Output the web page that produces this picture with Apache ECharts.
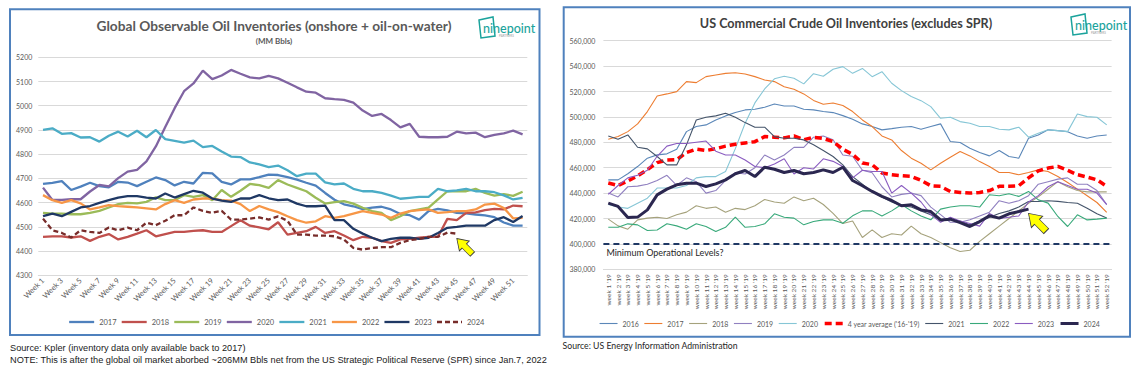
<!DOCTYPE html>
<html><head><meta charset="utf-8">
<script src="https://cdn.jsdelivr.net/npm/echarts/dist/echarts.min.js"></script>
<style>
html,body{margin:0;padding:0;background:#fff;width:1142px;height:368px;overflow:hidden}
#l{position:absolute;left:0;top:0;width:560px;height:368px}
#r{position:absolute;left:560px;top:0;width:582px;height:368px}
</style>
</head><body><div id="l"></div><div id="r"></div>
<script>
// ---------- LEFT CHART DATA (MM Bbls) ----------
const weeksL = [];
for (let i = 1; i <= 52; i++) weeksL.push('Week ' + i);
const yTicksL = { min: 4300, max: 5200, interval: 100 };
const g2017 = [4677,4682,4689,4652,4666,4682,4668,4663,4686,4683,4668,4686,4704,4693,4671,4686,4679,4723,4721,4686,4675,4696,4696,4705,4716,4714,4705,4695,4682,4670,4640,4612,4593,4585,4573,4579,4583,4572,4553,4548,4530,4565,4574,4568,4558,4556,4551,4547,4540,4518,4505,4505];
const g2018 = [4459,4461,4461,4456,4461,4442,4459,4470,4448,4459,4472,4486,4461,4470,4479,4479,4483,4486,4479,4479,4503,4527,4505,4498,4490,4519,4468,4475,4482,4500,4475,4482,4464,4445,4459,4455,4441,4434,4448,4450,4455,4459,4459,4533,4528,4558,4560,4569,4574,4572,4588,4585];
const g2019 = [4558,4555,4555,4552,4552,4558,4566,4580,4594,4599,4597,4603,4622,4610,4610,4631,4624,4631,4610,4652,4624,4649,4677,4672,4661,4693,4675,4661,4647,4620,4596,4602,4606,4596,4579,4565,4558,4528,4544,4565,4572,4579,4613,4647,4647,4647,4657,4640,4629,4635,4628,4645];
const g2020 = [4662,4611,4611,4614,4614,4646,4673,4667,4701,4728,4735,4770,4832,4912,4990,5060,5092,5145,5110,5125,5148,5132,5117,5113,5123,5113,5095,5076,5058,5054,5031,5027,5024,5013,4980,4958,4966,4941,4911,4925,4872,4870,4870,4872,4893,4886,4889,4870,4880,4886,4897,4882];
const g2021 = [4900,4907,4884,4887,4869,4870,4852,4876,4893,4873,4897,4870,4900,4862,4855,4848,4856,4829,4834,4811,4790,4788,4766,4758,4747,4753,4734,4709,4720,4720,4684,4675,4679,4657,4647,4647,4640,4629,4616,4620,4624,4624,4657,4647,4651,4657,4647,4647,4643,4630,4613,4620];
const g2022 = [4631,4610,4599,4610,4597,4572,4580,4590,4586,4583,4580,4576,4572,4594,4610,4599,4613,4617,4617,4610,4608,4594,4565,4586,4572,4561,4544,4528,4517,4523,4544,4537,4544,4555,4565,4558,4551,4537,4555,4565,4569,4572,4558,4561,4565,4565,4572,4592,4596,4578,4535,4537];
const g2023 = [4544,4555,4544,4562,4580,4586,4599,4610,4621,4627,4627,4621,4617,4638,4621,4635,4649,4641,4617,4608,4603,4617,4617,4631,4618,4610,4613,4596,4585,4585,4588,4528,4528,4492,4472,4455,4441,4450,4455,4455,4450,4455,4475,4496,4500,4505,4505,4505,4528,4540,4520,4545];
const g2024 = [4534,4486,4475,4456,4486,4479,4475,4497,4486,4497,4486,4517,4507,4525,4548,4548,4580,4566,4558,4566,4530,4530,4534,4539,4530,4543,4525,4468,4468,4464,4464,4461,4448,4413,4406,4413,4416,4416,4434,4445,4450,4459,4459,4476,4472];
const leftNames = ['2017','2018','2019','2020','2021','2022','2023','2024'];

// ---------- RIGHT CHART DATA (thousand barrels) ----------
const weeksR = [];
for (let i = 1; i <= 52; i++) weeksR.push('week ' + i + " '19");
const yTicksR = { min: 380, max: 560, interval: 20 };
const minOperational = 400;
const u2016 = [450.4,450.4,455.2,460.9,467.5,470.1,470.9,474.6,488.4,492.4,493.7,497.6,500.8,503.4,505.5,506.0,507.6,510.2,508.6,508.6,506.0,505.5,504.2,503.4,501.0,498.1,494.5,492.4,489.8,490.8,491.9,492.4,490.3,492.4,494.5,480.6,479.8,475.3,471.9,469.3,473.5,468.8,467.5,483.2,485.8,489.8,489.2,488.4,485.0,483.2,485.0,485.8];
const u2017 = [482.4,484.5,488.4,494.5,504.2,516.5,518.1,519.9,527.8,527.0,531.7,533.0,534.3,534.8,533.8,531.7,529.1,527.8,523.8,521.7,518.1,513.0,510.0,511.0,509.0,504.2,497.6,492.4,485.0,481.9,473.5,467.5,463.5,458.3,463.5,468.3,472.7,469.3,464.8,460.9,456.2,456.2,454.4,456.2,458.3,457.0,453.0,448.3,443.1,437.9,432.6,424.8];
const u2018 = [419.5,414.2,411.6,418.9,420.3,421.0,420.0,423.0,425.0,430.0,428.0,429.0,425.0,428.0,427.0,430.0,435.0,433.0,432.0,437.0,434.0,436.0,431.0,424.0,416.0,418.0,405.0,411.0,405.0,408.0,407.0,414.0,408.0,405.0,401.0,397.0,394.0,395.0,402.0,408.0,414.0,420.0,426.0,432.0,437.0,443.0,449.0,445.0,442.0,441.0,441.0,441.0];
const u2019 = [440,437,445,445.5,447,450,454,446,452,449,440,442,450,456,455,460,470,466,470,476,476,484,485,482,470,469,458,456,445,437,439,440,438,429,423,417,417,419,422,425,434,432,434,438,447,449,451,452,447,447,442,431];
const u2020 = [431,429,428,432,436,444,444,444,446,452,453,453,457,475,495,511,522,530,532,530.5,526,534,532,537.5,539.6,534.3,538.2,531.7,535.6,526.5,520.7,516.0,512.8,508.1,498.9,499.7,496.3,495.0,492.4,492.4,490.3,489.8,491.9,484.0,487.1,489.8,489.2,488.4,502.3,500.2,499.7,493.7];
const uAvg = [448,446,449.5,453.5,458.5,464,466,466.3,472,474.6,473.5,475,477,478.5,479.5,480.5,484.5,484,483.5,485,482,484,483,480.5,474.5,470.5,463.7,462.4,455.8,454.5,453.7,453.2,450,445.8,445.3,441.3,440.5,440,440.5,442,445.3,445.3,445.8,452,457.5,459.7,461,457.9,454.5,452.6,450.5,445.3];
const u2021 = [485.0,482.4,485.8,476.1,474.8,468.8,462.2,462.2,478.0,497.6,499.7,500.8,502.9,499.7,495.5,491.9,491.9,484.5,483.2,483.2,481.9,478.0,473.5,468.8,462.2,453,447,441,437,433,430,429,426,423,419,419,418,415,418,421,424,426,429,433.4,433.5,434,433.5,432.6,432,428.1,423.7,420.3];
const u2022 = [413.1,413.1,415.8,415.0,410.5,411.0,415.8,414.2,411.6,415.8,413.7,409.7,413.1,421.0,413.1,413.7,415.8,423.7,421.0,420.3,415.0,417.6,418.9,418.9,416.3,422.1,426,426,422,426,431,426,422,419,427.4,429,430,430,429,438.7,437.9,439.5,437.4,441.3,434.7,432.1,421.6,413.7,422.9,418.9,419.5,420.3];
const u2023 = [439,446,452,454,458,469,477,479,479,480,481,473,470,470,466,461,460,463,467,455,460,459,467,465,461,452,458,457,457,440,446,440,433,423,417,421,418,416,414,424,420,421,422,433,438,445,449,446,443,443,440,431];
const u2024 = [432.1,429.5,420.8,421.1,426.8,438.6,443.1,446.5,447.8,447.8,445.2,447.3,450.4,455.2,457.8,453.0,460.4,458.8,456.2,457.8,455.2,456.2,458.3,456.2,460.4,449.9,445.8,441.3,437.4,434.2,430.0,430.8,426.8,425.5,418.9,419.5,416.8,413.7,417.6,422.1,420.3,423.7,425.5,427.4];
const rightNames = ['2016','2017','2018','2019','2020',"4 year average ('16-'19)",'2021','2022','2023','2024'];

// ---------- STYLES ----------
const FONT = 'Lato, "Open Sans", sans-serif';
const AXIS_TXT = '#595959';
const GRID_LINE = '#d9d9d9';
const BORDER = '#4f81bd';
const TEAL = '#1ba39c';
const ARROW = 'path://M50,0 L100,48 L72,48 L72,100 L28,100 L28,48 L0,48 Z';

function logo(x, y) {
  return {
    type: 'group', x: x, y: y, silent: true,
    children: [
      { type: 'polygon', shape: { points: [[0, 3], [14, 0], [16, 19], [2, 21]] },
        style: { fill: 'none', stroke: TEAL, lineWidth: 1.5 } },
      { type: 'text', x: 4, y: 11,
        style: { text: 'ninepoint', fill: TEAL, fontSize: 12.5, fontFamily: FONT, fontWeight: 500, align: 'left', verticalAlign: 'middle' } },
      { type: 'text', x: 20, y: 19,
        style: { text: 'PARTNERS', fill: '#9a9a9a', fontSize: 3, fontFamily: FONT, align: 'left', verticalAlign: 'middle' } }
    ]
  };
}

// ---------- LEFT CHART ----------
const leftData = [g2017, g2018, g2019, g2020, g2021, g2022, g2023, g2024];
const leftColors = ['#4f81bd', '#c0504d', '#9bbb59', '#8064a2', '#4bacc6', '#f79646', '#1f3864', '#772c2a'];
const leftSeries = leftNames.map((n, i) => ({
  name: n, type: 'line', data: leftData[i], symbol: 'none', animation: false,
  lineStyle: { color: leftColors[i], width: 2.3, type: n === '2024' ? [5, 3] : 'solid' },
  itemStyle: { color: leftColors[i] }
}));
leftSeries[7].markPoint = {
  silent: true, animation: false,
  label: { show: false },
  itemStyle: { color: '#ffff00', borderColor: '#3c3c3c', borderWidth: 0.8, opacity: 1 },
  data: [{ coord: [44, 4452], symbol: ARROW, symbolSize: [14, 22], symbolRotate: 45, symbolOffset: [7.8, 7.8] }]
};

const lc = echarts.init(document.getElementById('l'), null, { renderer: 'svg' });
lc.setOption({
  animation: false,
  backgroundColor: '#ffffff',
  grid: { left: 38.3, top: 57.3, width: 489, height: 218 },
  xAxis: {
    type: 'category', data: weeksL, boundaryGap: true,
    axisLine: { lineStyle: { color: GRID_LINE } }, axisTick: { show: false },
    axisLabel: { interval: 1, rotate: 45, fontSize: 7.5, color: AXIS_TXT, fontFamily: FONT, margin: 4 }
  },
  yAxis: {
    type: 'value', min: yTicksL.min, max: yTicksL.max, interval: yTicksL.interval,
    axisLine: { show: false }, axisTick: { show: false },
    splitLine: { lineStyle: { color: GRID_LINE, width: 1 } },
    axisLabel: { fontSize: 7, color: AXIS_TXT, fontFamily: FONT, margin: 6, formatter: v => String(v) }
  },
  legend: {
    data: leftNames, left: 68, top: 318, padding: 0, itemWidth: 25, itemHeight: 8, itemGap: 4,
    lineStyle: { width: 2.3 },
    itemStyle: { opacity: 0, borderWidth: 0 },
    textStyle: { fontSize: 7.5, color: AXIS_TXT, fontFamily: FONT }
  },
  series: leftSeries,
  graphic: [
    { type: 'rect', silent: true, shape: { x: 10, y: 9.3, width: 529.5, height: 325.7 },
      style: { fill: 'none', stroke: BORDER, lineWidth: 2 } },
    { type: 'text', x: 274, y: 25, silent: true,
      style: { text: 'Global Observable Oil Inventories (onshore + oil-on-water)', fill: '#595959',
        fontSize: 13.7, fontWeight: 'bold', fontFamily: FONT, align: 'center', verticalAlign: 'middle' } },
    { type: 'text', x: 274, y: 40.7, silent: true,
      style: { text: '(MM Bbls)', fill: '#595959', fontSize: 8, fontWeight: 'bold', fontFamily: FONT,
        align: 'center', verticalAlign: 'middle' } },
    logo(479, 17),
    { type: 'text', x: 10, y: 348, silent: true,
      style: { text: 'Source: Kpler (inventory data only available back to 2017)', fill: '#1a1a1a',
        fontSize: 9.2, fontFamily: '"Liberation Sans", Arial, sans-serif', align: 'left', verticalAlign: 'middle' } },
    { type: 'text', x: 10, y: 359.5, silent: true,
      style: { text: 'NOTE: This is after the global oil market aborbed ~206MM Bbls net from the US Strategic Political Reserve (SPR) since Jan.7, 2022',
        fill: '#1a1a1a', fontSize: 9.2, fontFamily: '"Liberation Sans", Arial, sans-serif', align: 'left', verticalAlign: 'middle' } }
  ]
});

// ---------- RIGHT CHART ----------
const rightData = [u2016, u2017, u2018, u2019, u2020, uAvg, u2021, u2022, u2023, u2024];
const rightColors = ['#5b87b8', '#ed7d31', '#a5a27c', '#9080c0', '#86c6d6', '#ff0000', '#44546a', '#38a97a', '#8a5cc0', '#2b2750'];
const rightWidths = [1.1, 1.1, 1.1, 1.1, 1.1, 3.5, 1.1, 1.1, 1.1, 3];
const rightSeries = rightNames.map((n, i) => ({
  name: n, type: 'line', data: rightData[i], symbol: 'none', animation: false,
  lineStyle: { color: rightColors[i], width: rightWidths[i], type: i === 5 ? [7, 4] : 'solid' },
  itemStyle: { color: rightColors[i] }
}));
rightSeries[0].markLine = {
  silent: true, animation: false, symbol: ['none', 'none'],
  lineStyle: { color: '#1f3864', type: [6, 4], width: 2 },
  label: { show: true, position: 'insideStartBottom', formatter: 'Minimum Operational Levels?',
    color: '#262626', fontSize: 9, fontFamily: FONT, distance: [3, 4] },
  data: [{ yAxis: minOperational }]
};
rightSeries[9].markPoint = {
  silent: true, animation: false,
  label: { show: false },
  itemStyle: { color: '#ffff00', borderColor: '#3c3c3c', borderWidth: 0.8, opacity: 1 },
  data: [{ coord: [43, 424], symbol: ARROW, symbolSize: [16, 25], symbolRotate: 45, symbolOffset: [8.8, 8.8] }]
};

const rc = echarts.init(document.getElementById('r'), null, { renderer: 'svg' });
rc.setOption({
  animation: false,
  backgroundColor: '#ffffff',
  grid: { left: 43.4, top: 40.7, width: 508.2, height: 228.6 },
  xAxis: {
    type: 'category', data: weeksR, boundaryGap: true,
    axisLine: { lineStyle: { color: GRID_LINE } }, axisTick: { show: false },
    axisLabel: { interval: 0, rotate: 90, fontSize: 6.5, color: AXIS_TXT, fontFamily: FONT, margin: 5 }
  },
  yAxis: {
    type: 'value', min: yTicksR.min, max: yTicksR.max, interval: yTicksR.interval,
    axisLine: { show: false }, axisTick: { show: false },
    splitLine: { lineStyle: { color: GRID_LINE, width: 1 } },
    axisLabel: { fontSize: 7, color: AXIS_TXT, fontFamily: FONT, margin: 8,
      formatter: v => (v * 1000).toLocaleString('en-US') }
  },
  legend: {
    data: rightNames.map((n, i) => ({ name: n, lineStyle: { width: i === 5 ? 3.5 : (i === 9 ? 3 : 1.1) } })),
    left: 39, top: 320, padding: 0, itemWidth: 18, itemHeight: 8, itemGap: 5,
    itemStyle: { opacity: 0, borderWidth: 0 },
    textStyle: { fontSize: 7, color: AXIS_TXT, fontFamily: FONT }
  },
  series: rightSeries,
  graphic: [
    { type: 'rect', silent: true, shape: { x: 3.7, y: 7.3, width: 566.3, height: 329.4 },
      style: { fill: 'none', stroke: BORDER, lineWidth: 2 } },
    { type: 'text', x: 286, y: 23.3, silent: true,
      style: { text: 'US Commercial Crude Oil Inventories (excludes SPR)', fill: '#404040',
        fontSize: 12.6, fontWeight: 'bold', fontFamily: FONT, align: 'center', verticalAlign: 'middle' } },
    logo(511, 14),
    { type: 'text', x: 2.6, y: 345, silent: true,
      style: { text: 'Source: US Energy Information Administration', fill: '#262626',
        fontSize: 8.7, fontFamily: FONT, align: 'left', verticalAlign: 'middle' } }
  ]
});
</script></body></html>
